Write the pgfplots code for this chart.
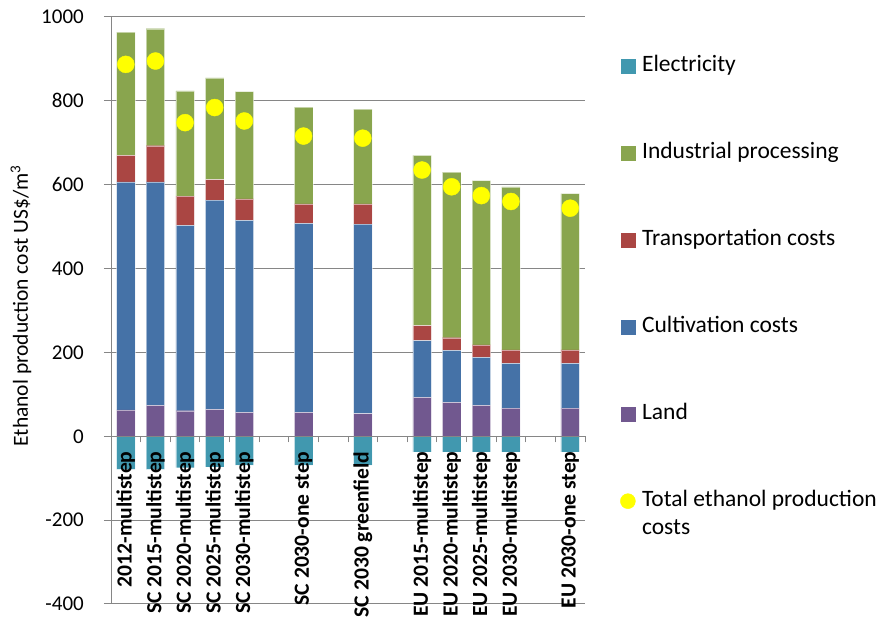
\documentclass[border=0pt]{standalone}
\usepackage{fontspec}
\setmainfont{Carlito}
\usepackage{pgfplots}
\usepackage{pgfplotstable}
\pgfplotsset{compat=1.18}
\definecolor{elec}{HTML}{4198AF}
\definecolor{ind}{HTML}{89A54E}
\definecolor{trans}{HTML}{AA4643}
\definecolor{cult}{HTML}{4572A7}
\definecolor{land}{HTML}{71588F}
\definecolor{axgray}{HTML}{868686}
\definecolor{dot}{HTML}{FFFF00}
\pgfplotstableread{
x land cult trans ind elec total
0 63 544 63 294 -79 887
1 74 533 86 279 -79 895
2 61 442 70 251 -75 748
3 64 499 49 243 -73 784
4 57 458 51 256 -69 752
6 57 451 46 231 -69 716
8 54 452 48 226 -69 711
10 93 135 36 406 -37 635
11 81 124 30 395 -37 595
12 74 114 30 392 -37 574
13 67 107 32 389 -37 560
15 67 107 32 373 -37 544
}\data
\begin{document}
\begin{tikzpicture}
\path[use as bounding box] (0,0) rectangle (879pt,621pt);
\pgfplotsset{common/.style={scale only axis, width=474pt, height=587pt,
  at={(111pt,17pt)}, anchor=south west, xmin=-0.5, xmax=15.5, ymin=-400, ymax=1000,
  bar width=18.5pt}}
\begin{axis}[common, ybar stacked,
  axis y line*=left, axis x line*=bottom, xtick=\empty,
  ytick={-400,-200,...,1000}, yticklabels={-400,-200,0,200,400,600,800,1000},
  ymajorgrids, major grid style={axgray, line width=1pt},
  axis line style={axgray, line width=1pt}, tick style={axgray, line width=1pt},
  tick align=outside, major tick length=7pt,
  yticklabel style={font=\fontsize{21}{25}\selectfont, inner sep=0pt, xshift=-20pt},
  ylabel={Ethanol production cost US\$/m\textsuperscript{3}},
  every axis y label/.style={at={(axis description cs:-0.19,0.508)}, rotate=90, anchor=center, font=\fontsize{21.5}{25}\selectfont}]
\addplot[fill=land, draw=white, draw opacity=0.5] table[x=x,y=land]{\data};
\addplot[fill=cult, draw=white, draw opacity=0.5] table[x=x,y=cult]{\data};
\addplot[fill=trans, draw=white, draw opacity=0.5] table[x=x,y=trans]{\data};
\addplot[fill=ind, draw=white, draw opacity=0.5] table[x=x,y=ind]{\data};
\end{axis}
\begin{axis}[common, axis x line*=middle, axis y line=none, ytick=\empty,
  xtick={0,1,2,3,4,6,8,10,11,12,13,15},
  xticklabels={2012-multistep, SC 2015-multistep, SC 2020-multistep, SC 2025-multistep, SC 2030-multistep, SC 2030-one step, SC 2030 greenfield, EU 2015-multistep, EU 2020-multistep, EU 2025-multistep, EU 2030-multistep, EU 2030-one step},
  minor xtick={-0.5,0.5,...,15.5},
  tick align=outside, major tick length=0pt, minor tick length=6pt,
  tick style={axgray, line width=1pt}, axis line style={axgray, line width=1pt},
  xticklabel style={rotate=90, anchor=east, inner sep=0pt, font=\bfseries\fontsize{21.6}{25}\selectfont},
  xticklabel shift=15pt,
  axis on top,
  legend cell align=left,
  legend style={draw=none, fill=none, at={(1.0738,0.9353)}, anchor=north west, inner sep=0pt,
    row sep=65pt, column sep=6.5pt, font=\fontsize{23.5}{28}\selectfont,
    nodes={inner sep=0pt, text height=16pt, text depth=6pt}}]
\addplot[ybar, bar width=18.5pt, fill=elec, draw=white, draw opacity=0.5, forget plot] table[x=x,y=elec]{\data};
\addplot[only marks, mark=*, mark size=8.5pt, mark options={fill=dot, draw=dot}, forget plot] table[x=x,y=total]{\data};
\addlegendimage{legend image code/.code={\fill[elec] (0pt,-7pt) rectangle (14pt,7pt);}}
\addlegendentry{Electricity}
\addlegendimage{legend image code/.code={\fill[ind] (0pt,-7pt) rectangle (14pt,7pt);}}
\addlegendentry{Industrial processing}
\addlegendimage{legend image code/.code={\fill[trans] (0pt,-7pt) rectangle (14pt,7pt);}}
\addlegendentry{Transportation costs}
\addlegendimage{legend image code/.code={\fill[cult] (0pt,-7pt) rectangle (14pt,7pt);}}
\addlegendentry{Cultivation costs}
\addlegendimage{legend image code/.code={\fill[land] (0pt,-7pt) rectangle (14pt,7pt);}}
\addlegendentry{Land}
\addlegendimage{legend image code/.code={\fill[dot] (7pt,0pt) circle (7.5pt);}}
\addlegendentry{\begin{tabular}[t]{@{}l@{}}Total ethanol production\\costs\end{tabular}}
\end{axis}
\end{tikzpicture}
\end{document}
